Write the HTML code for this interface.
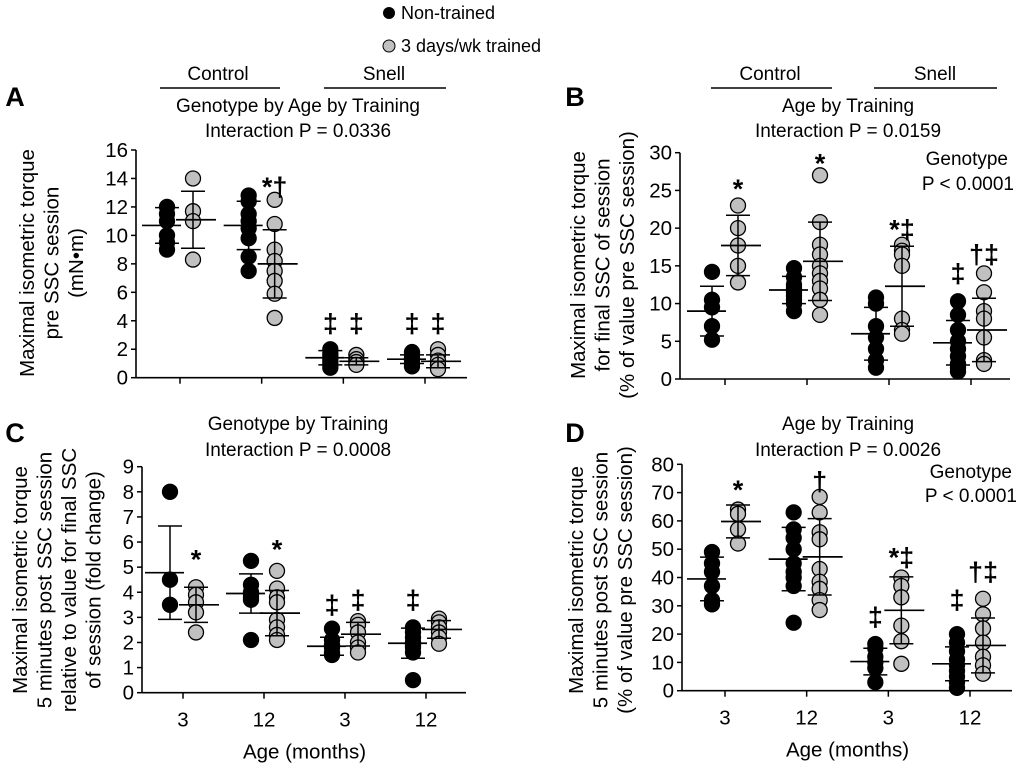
<!DOCTYPE html>
<html><head><meta charset="utf-8"><style>
html,body{margin:0;padding:0;background:#fff;}
svg{display:block;font-family:"Liberation Sans",Arial,sans-serif;}
</style></head><body>
<svg id="fig" width="1020" height="767" viewBox="0 0 1020 767">
<g>
<circle cx="389" cy="13" r="6" fill="#000"/>
<text x="401" y="19" font-size="18">Non-trained</text>
<circle cx="389" cy="46" r="6" fill="#c0c0c0" stroke="#000"/>
<text x="401" y="52" font-size="18">3 days/wk trained</text>
</g>
<g id="root"></g>
</svg>
<script>
// Panel A data
const aCats = ["3","12","3","12"];
const aTicks = [0,2,4,6,8,10,12,14,16];
const aBlack = [[12,11.5,11,10,9.5,9],[12.8,12.4,11.5,11,10.5,9.8,8.5,7.5],[2,1.7,1.5,1.3,1.1,0.9,0.7],[1.8,1.6,1.4,1.2,1.0,0.8]];
const aGray = [[14,11.7,11,8.3],[12.5,10.8,9,8.2,7.5,6.8,5.9,4.2],[1.6,1.3,1.1,0.9],[2.0,1.6,1.2,0.9,0.6]];
const aBlackMean = [10.7,10.7,1.4,1.3];
const aBlackSD = [1.25,1.7,0.5,0.3];
const aGrayMean = [11.1,8.0,1.15,1.15];
const aGraySD = [2.0,2.4,0.25,0.45];
const aAnnot = [[1,"g","*†",13.4],[2,"b","‡",3.8],[2,"g","‡",3.8],[3,"b","‡",3.8],[3,"g","‡",3.8]];
// Panel B data
const bTicks = [0,5,10,15,20,25,30];
const bBlack = [[14.2,10.5,9.5,7,5.2],[14.7,13.5,12.5,12,11.5,11,10.5,10,9],[10.8,10,7,5.5,4,2.5,1.5],[10.3,8.5,6.5,5,4,3,2,1.5,1]];
const bGray = [[23,20,17.7,15,12.8],[27,20.8,17.8,16.5,15,14,13,12,10.5,8.5],[17.8,17,16.5,15,8,6.5,6],[14,11.5,9,8,5.5,2.5,2]];
const bBlackMean = [9,11.8,6,4.8];
const bBlackSD = [3.3,1.8,3.5,2.95];
const bGrayMean = [17.7,15.6,12.3,6.5];
const bGraySD = [4,5.2,5.3,4.2];
const bAnnot = [[0,"g","*",25.2],[1,"g","*",28.6],[2,"g","*‡",19.8],[3,"b","‡",14],[3,"g","†‡",16.5]];
// Panel C data
const cTicks = [0,1,2,3,4,5,6,7,8,9];
const cBlack = [[8,4.5,3.5],[5.25,4.3,4.0,3.9,3.8,3.7,2.1],[2.55,2.1,1.9,1.8,1.6,1.5],[2.6,2.4,2.2,2.0,1.9,1.8,1.6,0.5]];
const cGray = [[4.2,3.9,3.6,3.2,2.4],[4.85,4.15,3.8,3.6,2.9,2.6,2.3,2.1],[2.85,2.7,2.4,2.0,1.8,1.6],[2.95,2.8,2.6,2.4,2.2,1.95]];
const cBlackMean = [4.78,3.95,1.85,1.97];
const cBlackSD = [1.86,0.78,0.36,0.6];
const cGrayMean = [3.5,3.17,2.33,2.52];
const cGraySD = [0.7,0.9,0.47,0.35];
const cAnnot = [[0,"g","*",5.3],[1,"g","*",5.7],[2,"b","‡",3.5],[2,"g","‡",3.7],[3,"b","‡",3.7]];
// Panel D data
const dTicks = [0,10,20,30,40,50,60,70,80];
const dBlack = [[49,45,42,37,32,30.5],[63,57,54,50,45,42,40,37,24],[16.5,15,12,10,8,3],[20,17,14,11,9,7,5,3,1]];
const dGray = [[64,62.5,57,52],[68.5,63,56,53.5,43,38.5,36,32,28.5],[40,37,33,23,17.5,9.5],[32.5,27,22,17,12,9,6]];
const dBlackMean = [39.5,46.5,10.3,9.5];
const dBlackSD = [7.7,11.2,4.7,6];
const dGrayMean = [59.8,47.3,28.4,16];
const dGraySD = [5.8,13.5,11.8,9.7];
const dAnnot = [[0,"g","*",71],[1,"g","†",74],[2,"b","‡",26],[2,"g","*‡",47],[3,"b","‡",32],[3,"g","†‡",42]];

const NS="http://www.w3.org/2000/svg";
const root=document.getElementById('root');
function mk(tag,attrs,parent,txt){const e=document.createElementNS(NS,tag);for(const k in attrs)e.setAttribute(k,attrs[k]);if(txt!==undefined)e.textContent=txt;(parent||root).appendChild(e);return e;}

function panel(o){
  const g=mk('g',{});
  
  
  const max=o.ticks[o.ticks.length-1];
  const y=v=>o.y0-(v/max)*(o.y0-o.yTop);
  const x=i=>o.x0+(i)*(o.x3-o.x0)/3;
  const ax=mk('line',{x1:o.ax,y1:o.yTop,x2:o.ax,y2:o.y0,stroke:'#000','stroke-width':1.6},g);
  
  
  const xx=mk('line',{x1:o.ax,y1:o.y0,x2:o.axEnd,y2:o.y0,stroke:'#000','stroke-width':1.6},g);
  
  
  o.ticks.forEach(t=>{
    mk('line',{x1:o.ax-5,y1:y(t),x2:o.ax,y2:y(t),stroke:'#000','stroke-width':1.5},g);
    const tl=mk('text',{x:o.ax-8,y:y(t)+7,'font-size':20.5,'text-anchor':'end'},g,String(t));
    
    
  });
  for(let i=0;i<4;i++){
    mk('line',{x1:x(i),y1:o.y0,x2:x(i),y2:o.y0+6,stroke:'#000','stroke-width':1.5},g);
    if(o.xlabels){
      const xl=mk('text',{x:x(i),y:o.y0+34,'font-size':20.5,'text-anchor':'middle'},g,aCats[i]);
      
      
    }
  }
  if(o.xlabels){
    const xt=mk('text',{x:(o.x0+o.x3)/2,y:o.y0+66,'font-size':20.5,'text-anchor':'middle'},g,'Age (months)');
    
    
  }
  const series=[[o.black,o.bm,o.bs,-13,'#000'],[o.gray,o.gm,o.gs,13,'#c0c0c0']];
  series.forEach(([pts,m,s,off,fill],si)=>{
    for(let i=0;i<4;i++){
      const cx=x(i)+off;
      pts[i].forEach(v=>{
        const c=mk('circle',{cx:cx,cy:y(v),r:7.5,fill:fill,stroke:'#000','stroke-width':1.3},g);
        
        
      });
      const mx1=cx-(si?17:25), mx2=cx+(si?23:14);
      const ml=mk('line',{x1:mx1,y1:y(m[i]),x2:mx2,y2:y(m[i]),stroke:'#000','stroke-width':1.7},g);
      
      
      mk('line',{x1:cx,y1:y(m[i]+s[i]),x2:cx,y2:y(m[i]-s[i]),stroke:'#000','stroke-width':1.5},g);
      mk('line',{x1:cx-12,y1:y(m[i]+s[i]),x2:cx+12,y2:y(m[i]+s[i]),stroke:'#000','stroke-width':1.5},g);
      mk('line',{x1:cx-12,y1:y(m[i]-s[i]),x2:cx+12,y2:y(m[i]-s[i]),stroke:'#000','stroke-width':1.5},g);
    }
  });
  o.annot.forEach(([i,s,t,v])=>{
    const a=mk('text',{x:x(i)+(s==='g'?13:-13),y:y(v)+9,'font-size':27,'font-weight':'bold','text-anchor':'middle'},g,t);
    
    
  });
  const tt=mk('text',{transform:`translate(${o.tx},${o.ty}) rotate(-90)`,'font-size':20.5,'text-anchor':'middle'},g);
  
  
  o.title.forEach((l,k)=>{mk('tspan',{x:0,dy:k?24.5:0},tt,l);});
}

panel({name:'panel-a',ax:136,axEnd:467,x0:180,x3:425,y0:377.7,yTop:150,ticks:aTicks,black:aBlack,gray:aGray,bm:aBlackMean,bs:aBlackSD,gm:aGrayMean,gs:aGraySD,annot:aAnnot,xlabels:false,tx:34,ty:263,title:["Maximal isometric torque","pre SSC session","(mN•m)"]});
panel({name:'panel-b',ax:680,axEnd:1010,x0:725,x3:971,y0:379,yTop:152.7,ticks:bTicks,black:bBlack,gray:bGray,bm:bBlackMean,bs:bBlackSD,gm:bGrayMean,gs:bGraySD,annot:bAnnot,xlabels:false,tx:585,ty:265,title:["Maximal isometric torque","for final SSC of session","(% of value pre SSC session)"]});
panel({name:'panel-c',ax:142,axEnd:466,x0:183,x3:426,y0:692.7,yTop:466.7,ticks:cTicks,black:cBlack,gray:cGray,bm:cBlackMean,bs:cBlackSD,gm:cGrayMean,gs:cGraySD,annot:cAnnot,xlabels:true,tx:27,ty:580,title:["Maximal isometric torque","5 minutes post SSC session","relative to value for final SSC","of session (fold change)"]});
panel({name:'panel-d',ax:682,axEnd:1012,x0:725,x3:970,y0:690.7,yTop:464.3,ticks:dTicks,black:dBlack,gray:dGray,bm:dBlackMean,bs:dBlackSD,gm:dGrayMean,gs:dGraySD,annot:dAnnot,xlabels:true,tx:583,ty:580,title:["Maximal isometric torque","5 minutes post SSC session","(% of value pre SSC session)"]});

function txt(x,y,s,name,size,weight,anchor){const t=mk('text',{x:x,y:y,'font-size':size||19,'font-weight':weight||'normal','text-anchor':anchor||'middle'},root,s);
 
 }
function ln(x1,x2,y,name){const l=mk('line',{x1:x1,y1:y,x2:x2,y2:y,stroke:'#000','stroke-width':1.5});
 
 }
txt(15,106,'A','panel-a-label',27,'bold','middle');
txt(575,106,'B','panel-b-label',27,'bold','middle');
txt(15,442,'C','panel-c-label',27,'bold','middle');
txt(575,442,'D','panel-d-label',27,'bold','middle');
txt(218,80,'Control','control-header-a');ln(160,280,88,'control-bracket-a');
txt(384,80,'Snell','snell-header-a');ln(324,446,88,'snell-bracket-a');
txt(298,112,'Genotype by Age by Training','panel-a-stat-title');
txt(298,137,'Interaction P = 0.0336','panel-a-stat-p');
txt(770,80,'Control','control-header-b');ln(711,832,88,'control-bracket-b');
txt(935,80,'Snell','snell-header-b');ln(874,997,88,'snell-bracket-b');
txt(848,112,'Age by Training','panel-b-stat-title');
txt(848,137,'Interaction P = 0.0159','panel-b-stat-p');
txt(1008,165,'Genotype','panel-b-genotype',19,'normal','end');
txt(1014,190,'P < 0.0001','panel-b-genotype-p',19,'normal','end');
txt(298,430,'Genotype by Training','panel-c-stat-title');
txt(298,456,'Interaction P = 0.0008','panel-c-stat-p');
txt(848,430,'Age by Training','panel-d-stat-title');
txt(848,456,'Interaction P = 0.0026','panel-d-stat-p');
txt(1012,478,'Genotype','panel-d-genotype',19,'normal','end');
txt(1017,502,'P < 0.0001','panel-d-genotype-p',19,'normal','end');
</script>
</body></html>
